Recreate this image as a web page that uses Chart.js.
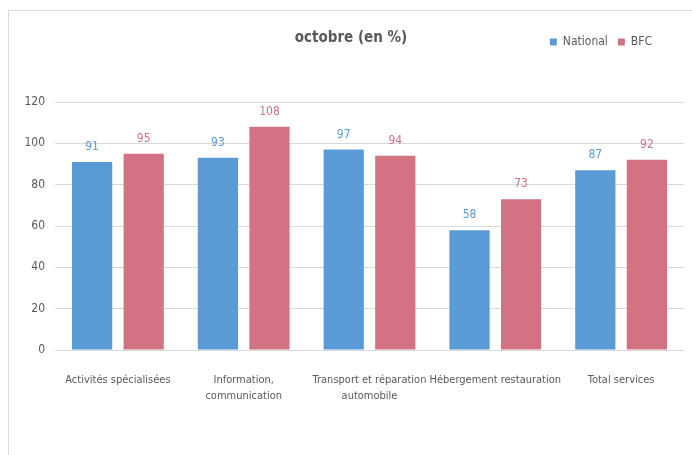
<!DOCTYPE html>
<html>
<head>
<meta charset="utf-8">
<script src="https://cdn.jsdelivr.net/npm/chart.js@4"></script>
<style>
  body { margin: 0; background: #fff; }
  #wrap { position: relative; width: 692px; height: 455px; overflow: hidden; }
  #frame { position: absolute; left: 8px; top: 10px; width: 700px; height: 460px; border: 1px solid #d9d9d9; }
  #chart { position: absolute; left: 0; top: 0; }
</style>
</head>
<body>
<div id="wrap">
  <div id="frame"></div>
  <canvas id="chart" width="692" height="455"></canvas>
</div>
<script>
const categories = [
  'Activités spécialisées',
  ['Information,', 'communication'],
  ['Transport et réparation', 'automobile'],
  'Hébergement restauration',
  'Total services'
];
const nationalValues = [91, 93, 97, 58, 87];
const bfcValues = [95, 108, 94, 73, 92];
const yTicks = [0, 20, 40, 60, 80, 100, 120];

const fontFamily = '"Liberation Sans Narrow", "DejaVu Sans Condensed", "Liberation Sans", Arial, sans-serif';
const textColor = '#595959';

// valeurs au-dessus des barres
const barValues = {
  id: 'barValues',
  afterDatasetsDraw(chart) {
    const ctx = chart.ctx;
    ctx.save();
    ctx.font = '12px ' + fontFamily;
    ctx.textAlign = 'center';
    ctx.textBaseline = 'middle';
    chart.data.datasets.forEach((ds, i) => {
      ctx.fillStyle = ds.backgroundColor;
      chart.getDatasetMeta(i).data.forEach((bar, j) => {
        ctx.fillText(ds.data[j], bar.x, bar.y - 15);
      });
    });
    ctx.restore();
  }
};

// titre et légende sur la même ligne
const placeBoxes = {
  id: 'placeBoxes',
  afterLayout(chart) {
    const lg = chart.legend;
    lg.top -= 44; lg.bottom -= 44;
    lg.left -= 22; lg.right -= 22;
    const t = chart.titleBlock;
    t.left += 9; t.right += 9;
  }
};

new Chart(document.getElementById('chart').getContext('2d'), {
  type: 'bar',
  data: {
    labels: categories,
    datasets: [
      { label: 'National', data: nationalValues, backgroundColor: '#5b9bd5' },
      { label: 'BFC', data: bfcValues, backgroundColor: '#d37282' }
    ]
  },
  options: {
    responsive: false,
    animation: false,
    layout: { padding: { left: 0, right: 8, top: 0, bottom: 0 } },
    datasets: { bar: { categoryPercentage: 0.82, barPercentage: 0.78 } },
    plugins: {
      title: {
        display: true,
        text: 'octobre (en %)',
        color: textColor,
        font: { family: fontFamily, size: 15, weight: 'bold' },
        padding: { top: 29, bottom: 23 }
      },
      legend: {
        display: true,
        position: 'top',
        align: 'end',
        labels: {
          color: textColor,
          font: { family: fontFamily, size: 12 },
          boxWidth: 7,
          boxHeight: 7,
          padding: 10
        }
      },
      tooltip: { enabled: false }
    },
    scales: {
      x: {
        grid: { display: false, drawTicks: false },
        border: { color: '#d9d9d9' },
        ticks: {
          color: textColor,
          font: { family: fontFamily, size: 11, lineHeight: 1.45 },
          padding: 22,
          maxRotation: 0,
          autoSkip: false
        },
        afterFit(scale) { scale.height = 105; }
      },
      y: {
        min: 0,
        max: 120,
        grid: { color: '#d9d9d9', drawTicks: false },
        border: { display: false },
        afterBuildTicks(scale) { scale.ticks = yTicks.map(v => ({ value: v })); },
        ticks: {
          color: textColor,
          font: { family: fontFamily, size: 12 },
          padding: 10
        },
        afterFit(scale) { scale.width = 55; }
      }
    }
  },
  plugins: [barValues, placeBoxes]
});
</script>
</body>
</html>
